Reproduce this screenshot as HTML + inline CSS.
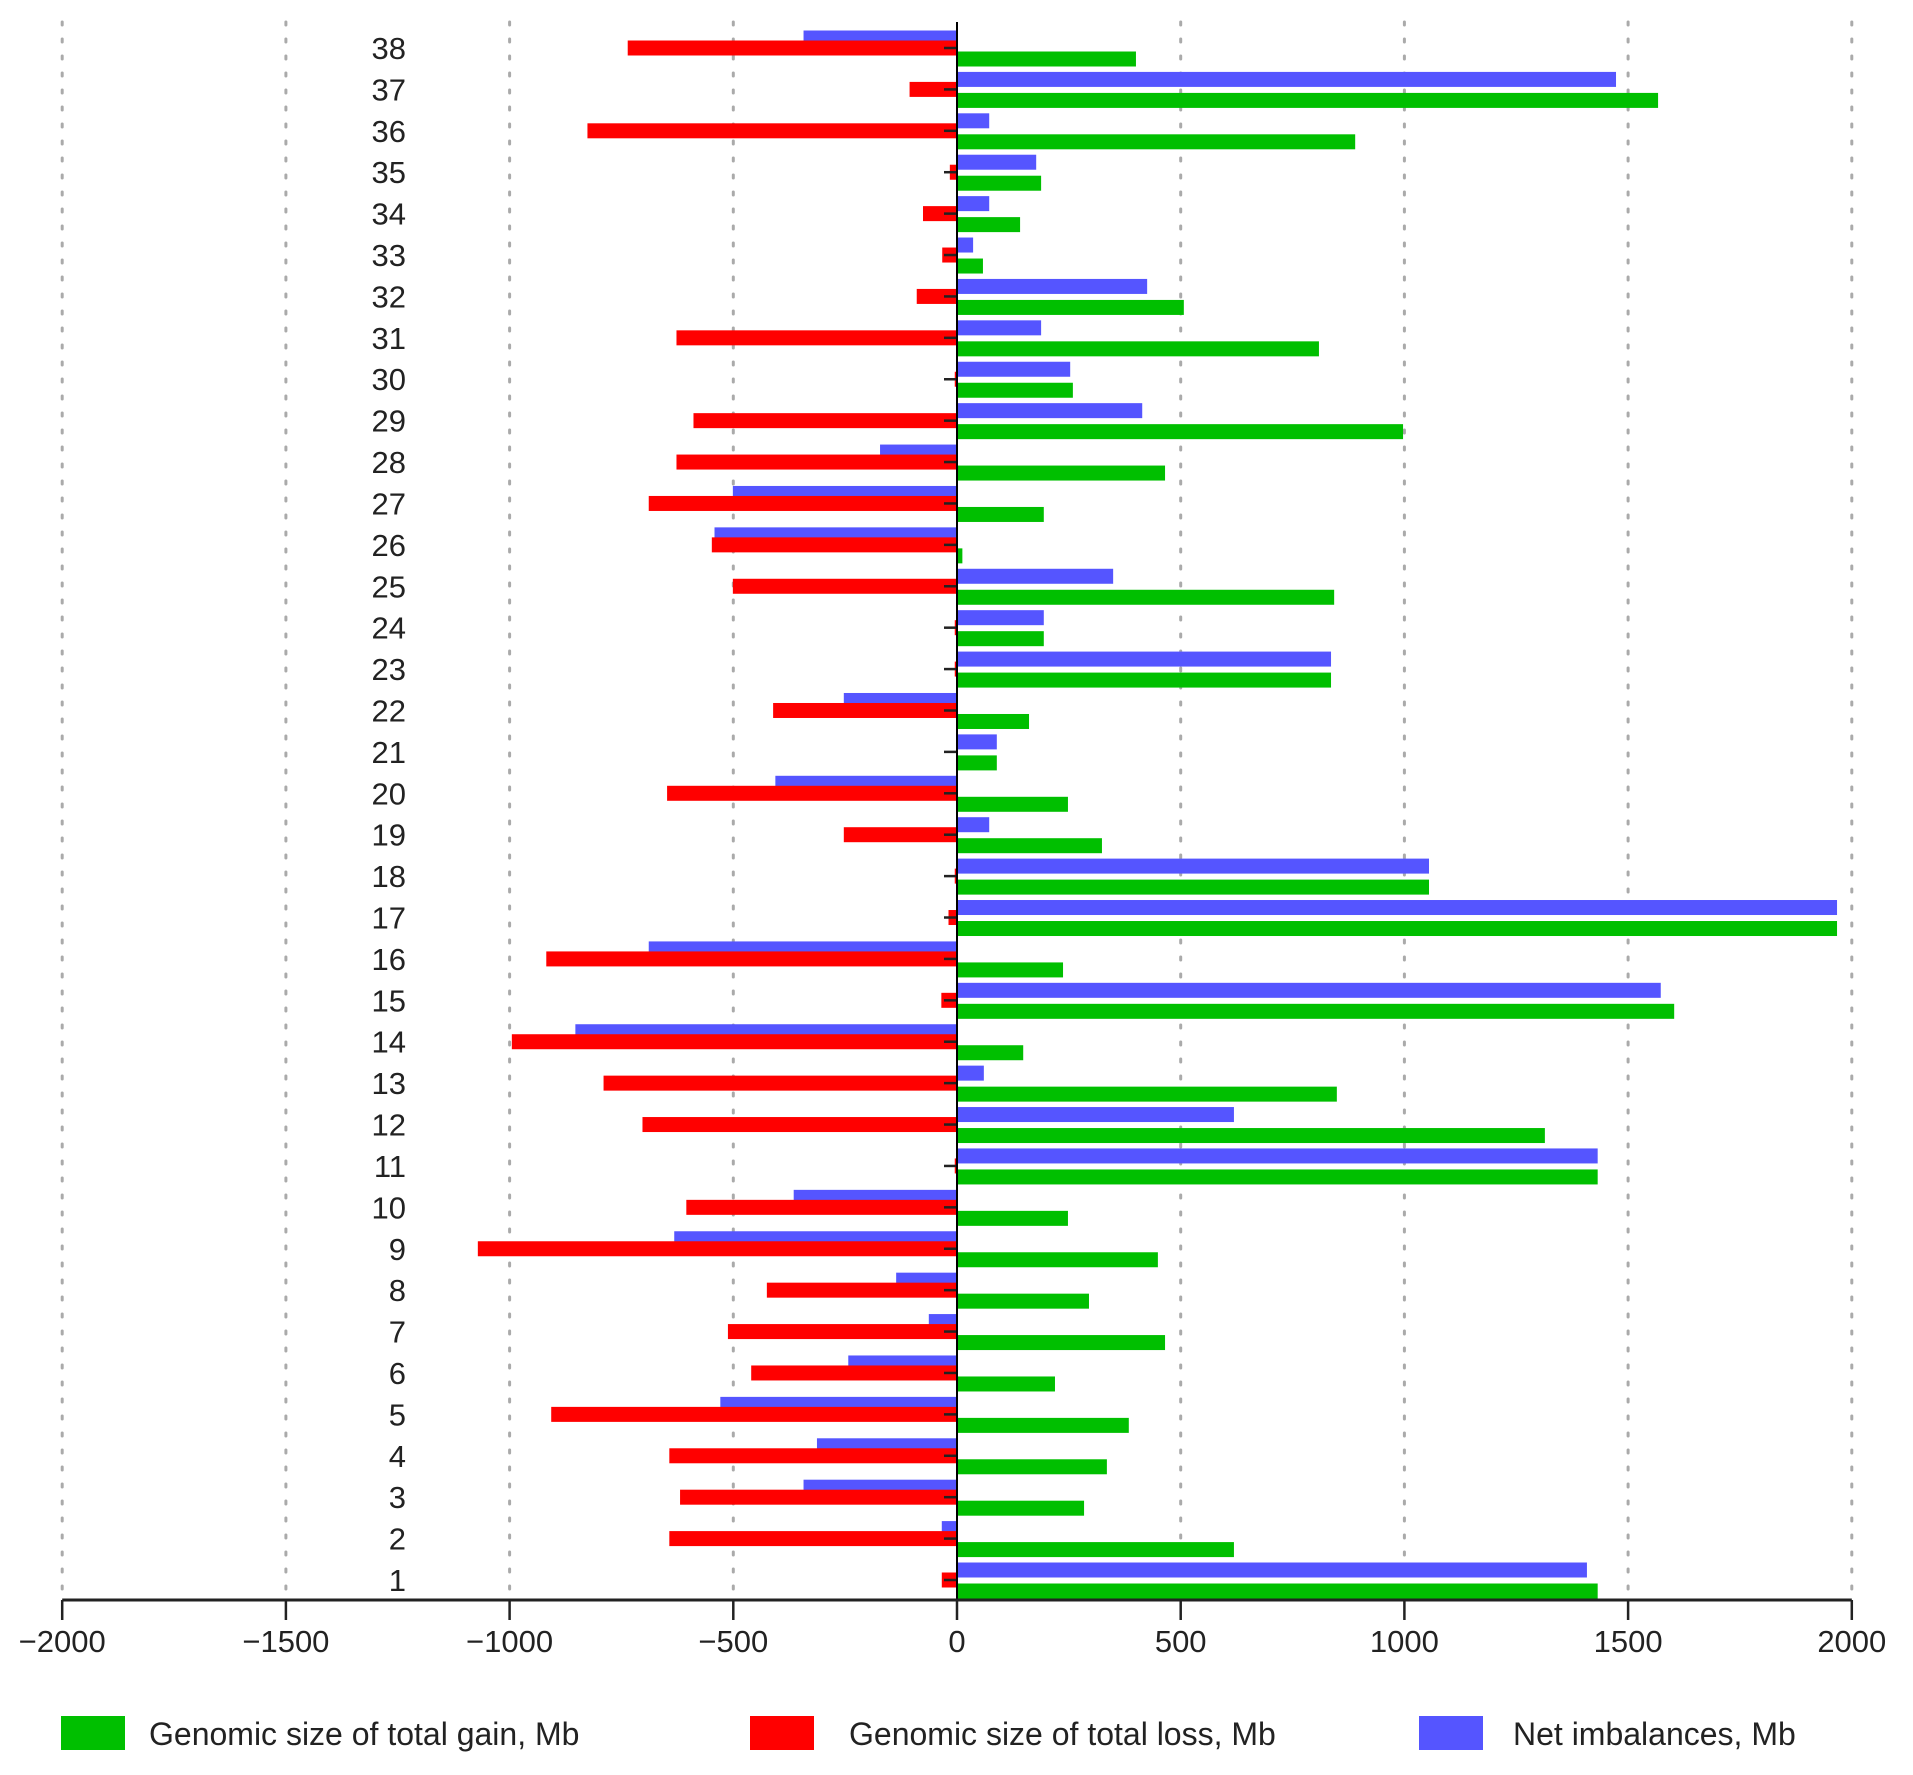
<!DOCTYPE html>
<html><head><meta charset="utf-8"><style>
html,body{margin:0;padding:0;background:#fff;}
svg{display:block;font-family:"Liberation Sans",Arial,sans-serif;}
</style></head><body>
<svg id="chart" width="1913" height="1775" viewBox="0 0 1913 1775" xmlns="http://www.w3.org/2000/svg">
<g id="grid"></g>
<g id="bars"></g>
<g id="axis"></g>
<g id="ylabels"></g>
<g>
  <rect x="61" y="1716" width="64" height="34" fill="#00bf00"/>
  <text x="149" y="1745" font-size="32" fill="#222">Genomic size of total gain, Mb</text>
  <rect x="750" y="1716" width="64" height="34" fill="#ff0000"/>
  <text x="849" y="1745" font-size="32" fill="#222">Genomic size of total loss, Mb</text>
  <rect x="1419" y="1716" width="64" height="34" fill="#5555ff"/>
  <text x="1513" y="1745" font-size="32" fill="#222">Net imbalances, Mb</text>
</g>
</svg>
<script>
// categories 1..38 (bottom to top)
const categories = [1,2,3,4,5,6,7,8,9,10,11,12,13,14,15,16,17,18,19,20,21,22,23,24,25,26,27,28,29,30,31,32,33,34,35,36,37,38];
const gain = [1432,619,284,335,384,219,465,295,449,248,1432,1314,849,148,1603,237,1967,1055,324,248,89,161,836,194,843,12,194,465,997,259,809,507,58,141,188,890,1567,400];
const loss = [-34,-643,-619,-643,-907,-460,-512,-425,-1071,-605,-5,-703,-790,-995,-35,-918,-19,-5,-253,-648,0,-411,-5,-5,-501,-548,-689,-627,-589,-5,-627,-90,-33,-76,-16,-826,-106,-736];
const net = [1408,-34,-343,-313,-529,-243,-63,-136,-632,-365,1432,619,60,-853,1573,-689,1967,1055,72,-406,89,-253,836,194,349,-542,-501,-172,414,253,188,425,36,72,177,72,1473,-343];
const ticks = [-2000,-1500,-1000,-500,0,500,1000,1500,2000];

const NS = 'http://www.w3.org/2000/svg';
const X0 = 957, PX = 223.7/500;
const x = v => X0 + v*PX;
const rowY = i => 1580 - i*(1580-48)/37;
const AXY = 1600, BH = 15;
function mk(tag, attrs, parent){const e=document.createElementNS(NS,tag);for(const k in attrs)e.setAttribute(k,attrs[k]);parent.appendChild(e);return e;}

const grid=document.getElementById('grid');
ticks.forEach(t=>{
  if(t===0) return;
  const l=mk('line',{x1:x(t),x2:x(t),y1:22,y2:AXY,stroke:'#aaa','stroke-width':3,'stroke-dasharray':'3 14','stroke-linecap':'round'},grid);
  
  
});

const bars=document.getElementById('bars');
function bar(v,cy,color,name){
  const x1=Math.min(x(0),x(v)), w=Math.abs(x(v)-x(0));
  const r=mk('rect',{x:x1,y:cy-BH/2,width:Math.max(w,0.01),height:BH,fill:color},bars);
  
  
}
categories.forEach((c,i)=>{
  const cy=rowY(i);
  bar(net[i],cy-10,'#5555ff','bar-net-'+c);
  bar(loss[i],cy,'#ff0000','bar-loss-'+c);
  bar(gain[i],cy+11,'#00bf00','bar-gain-'+c);
  const tk=mk('line',{x1:x(0)-13,x2:x(0),y1:cy,y2:cy,stroke:'#222','stroke-width':2.5},bars);
  
  
  const lab=mk('text',{x:406,y:cy+11,'font-size':31,'text-anchor':'end',fill:'#222'},document.getElementById('ylabels'));
  lab.textContent=c;
  
  
});

const axis=document.getElementById('axis');
const zl=mk('line',{x1:x(0),x2:x(0),y1:22,y2:AXY,stroke:'#000','stroke-width':2},axis);


const al=mk('line',{x1:x(-2000),x2:x(2000),y1:AXY,y2:AXY,stroke:'#222','stroke-width':3},axis);


ticks.forEach(t=>{
  const tl=mk('line',{x1:x(t),x2:x(t),y1:AXY,y2:AXY+20,stroke:'#222','stroke-width':2.5},axis);
  
  
  const tt=mk('text',{x:x(t),y:AXY+52,'font-size':31,'text-anchor':'middle',fill:'#222'},axis);
  tt.textContent=t<0?'\u2212'+Math.abs(t):String(t);
  
  
});
</script>
</body></html>
